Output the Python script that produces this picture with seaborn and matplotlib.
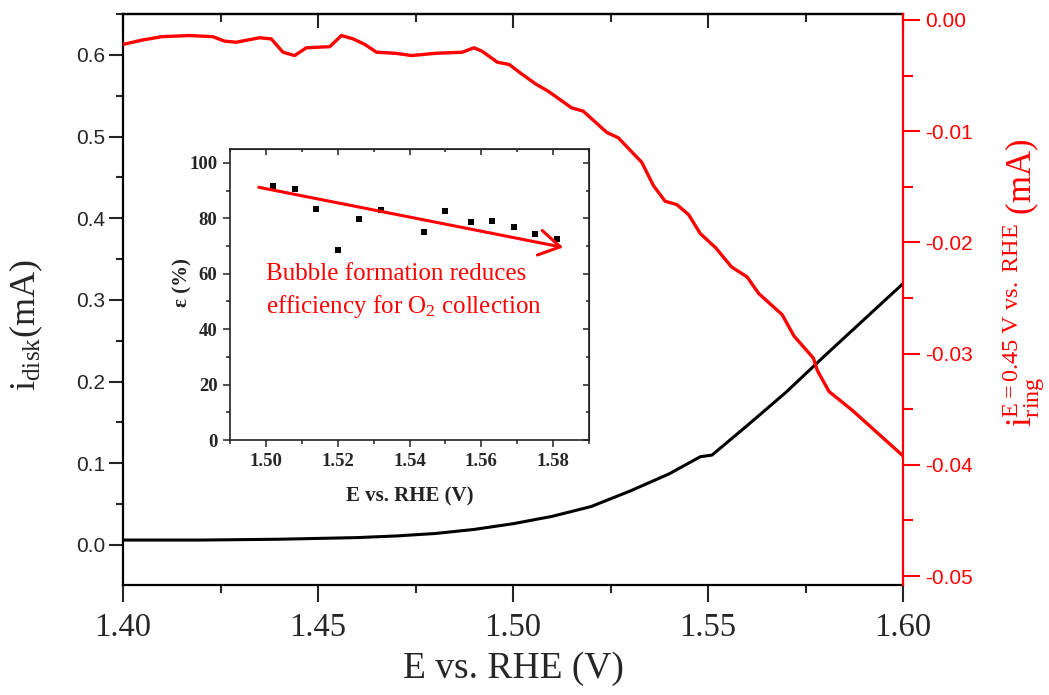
import matplotlib
matplotlib.use('Agg')
import matplotlib.pyplot as plt
from matplotlib.ticker import MultipleLocator, FuncFormatter
import seaborn as sns

# Disk current (black curve)
e_disk = [1.400, 1.420, 1.440, 1.460, 1.470, 1.480, 1.490, 1.500, 1.510, 1.520,
          1.530, 1.540, 1.548, 1.551, 1.560, 1.570, 1.580, 1.590, 1.600]
i_disk = [0.006, 0.006, 0.007, 0.009, 0.011, 0.014, 0.019, 0.026, 0.035, 0.047,
          0.066, 0.087, 0.108, 0.110, 0.146, 0.187, 0.232, 0.276, 0.320]

# Ring current at E=0.45 V (red curve)
e_ring = [1.400, 1.405, 1.410, 1.417, 1.423, 1.426, 1.429, 1.435, 1.438, 1.441,
          1.444, 1.447, 1.453, 1.456, 1.459, 1.462, 1.465, 1.470, 1.474, 1.480,
          1.487, 1.490, 1.492, 1.496, 1.499, 1.502, 1.506, 1.509, 1.515, 1.518,
          1.524, 1.527, 1.533, 1.536, 1.539, 1.542, 1.545, 1.548, 1.552, 1.556,
          1.560, 1.563, 1.569, 1.572, 1.577, 1.578, 1.581, 1.587, 1.600]
i_ring = [-0.0022, -0.0018, -0.0015, -0.0014, -0.0015, -0.0019, -0.0020, -0.0016, -0.0017, -0.0029,
          -0.0032, -0.0025, -0.0024, -0.0014, -0.0017, -0.0022, -0.0029, -0.0030, -0.0032, -0.0030,
          -0.0029, -0.0025, -0.0028, -0.0038, -0.0040, -0.0048, -0.0058, -0.0064, -0.0079, -0.0082,
          -0.0101, -0.0106, -0.0128, -0.0149, -0.0163, -0.0166, -0.0175, -0.0192, -0.0205, -0.0222,
          -0.0231, -0.0246, -0.0265, -0.0284, -0.0304, -0.0315, -0.0334, -0.0351, -0.0392]

# Inset: collection efficiency
e_eff = [1.502, 1.508, 1.514, 1.520, 1.526, 1.532, 1.544, 1.550, 1.557, 1.563, 1.569, 1.575, 1.581]
eff = [91.8, 90.4, 83.5, 68.5, 79.6, 82.9, 75.1, 82.7, 78.5, 79.0, 76.7, 74.2, 72.4]

# trend arrow in the inset (start, end)
arrow_start = (1.498, 91.2)
arrow_end = (1.5828, 69.5)

sns.set_style('ticks')
plt.rcParams['font.family'] = ['Liberation Serif', 'DejaVu Serif']
plt.rcParams['mathtext.fontset'] = 'custom'
plt.rcParams['mathtext.rm'] = 'Liberation Serif'
plt.rcParams['mathtext.it'] = 'Liberation Serif:italic'
plt.rcParams['mathtext.bf'] = 'Liberation Serif:bold'
plt.rcParams['axes.unicode_minus'] = False

RED = '#ff0000'

fig = plt.figure(figsize=(10.49, 6.95), dpi=100)
ax = fig.add_axes([0.1173, 0.1583, 0.7436, 0.8216])
ax2 = ax.twinx()

sns.lineplot(x=e_disk, y=i_disk, ax=ax, color='black', lw=2.2)
sns.lineplot(x=e_ring, y=i_ring, ax=ax2, color=RED, lw=2.4)

ax.set_xlim(1.40, 1.60)
ax.set_ylim(-0.049, 0.65)
ax2.set_ylim(-0.0508, 0.00054)

for s in ax.spines.values():
    s.set_linewidth(1.6)
    s.set_color('black')
ax.spines['right'].set_visible(False)
for s in ['left', 'top', 'bottom']:
    ax2.spines[s].set_visible(False)
ax2.spines['right'].set_color(RED)
ax2.spines['right'].set_linewidth(1.6)

# bottom x axis
ax.xaxis.set_major_locator(MultipleLocator(0.05))
ax.xaxis.set_minor_locator(MultipleLocator(0.025))
ax.xaxis.set_major_formatter(FuncFormatter(lambda v, p: f'{v:.2f}'))
ax.tick_params(axis='x', which='major', direction='out', length=12, width=1.5,
               labelsize=23.5, pad=8, labelfontfamily='Liberation Serif')
ax.tick_params(axis='x', which='minor', direction='out', length=6, width=1.5)

# top ticks, inward
top = ax.secondary_xaxis('top')
top.xaxis.set_major_locator(MultipleLocator(0.05))
top.xaxis.set_minor_locator(MultipleLocator(0.025))
top.tick_params(axis='x', which='major', direction='in', length=10, width=1.5, labeltop=False)
top.tick_params(axis='x', which='minor', direction='in', length=6, width=1.5)
top.spines['top'].set_linewidth(1.6)

# left y axis
ax.yaxis.set_major_locator(MultipleLocator(0.1))
ax.yaxis.set_minor_locator(MultipleLocator(0.05))
ax.yaxis.set_major_formatter(FuncFormatter(lambda v, p: f'{round(v, 3) + 0.0:.1f}'))
ax.tick_params(axis='y', which='major', direction='out', length=10, width=1.5,
               labelsize=15, pad=3, labelfontfamily='Liberation Sans')
ax.tick_params(axis='y', which='minor', direction='out', length=5, width=1.5)

# right y axis (red)
ax2.yaxis.set_major_locator(MultipleLocator(0.01))
ax2.yaxis.set_minor_locator(MultipleLocator(0.005))
ax2.yaxis.set_major_formatter(FuncFormatter(lambda v, p: f'{round(v, 4) + 0.0:.2f}'))
ax2.tick_params(axis='y', which='major', direction='out', length=12, width=1.5, color=RED,
                labelcolor=RED, labelsize=15, pad=4, labelfontfamily='Liberation Sans')
ax2.tick_params(axis='y', which='minor', direction='out', length=7, width=1.5, color=RED)

ax.set_xlabel('E vs. RHE (V)', fontsize=27, labelpad=6)
ax.set_ylabel(r'i$_\mathregular{disk}$(mA)', fontsize=26)
ax.yaxis.set_label_coords(-0.10, 0.455)
ax2.set_ylabel(r'i$_\mathregular{ring}^\mathregular{E=0.45\ V\ vs.\ RHE}$ (mA)', fontsize=25, color=RED)
ax2.yaxis.set_label_coords(1.125, 0.53)

# inset
axin = fig.add_axes([0.2193, 0.3669, 0.3422, 0.4187])
axin.set_facecolor('white')
sns.scatterplot(x=e_eff, y=eff, ax=axin, marker='s', color='black', s=18, linewidth=0)
axin.set_xlim(1.49, 1.59)
axin.set_ylim(0, 105)
INK = '#222222'
for s in axin.spines.values():
    s.set_linewidth(1.2)
    s.set_color(INK)
axin.xaxis.set_major_locator(MultipleLocator(0.02))
axin.xaxis.set_minor_locator(MultipleLocator(0.01))
axin.xaxis.set_major_formatter(FuncFormatter(lambda v, p: f'{v:.2f}'))
axin.yaxis.set_major_locator(MultipleLocator(20))
axin.yaxis.set_minor_locator(MultipleLocator(10))
axin.tick_params(which='major', direction='out', length=5, width=1.1, color=INK,
                 labelsize=13.5, pad=4)
axin.tick_params(which='minor', direction='out', length=3, width=1.1, color=INK)
for lab in axin.get_xticklabels() + axin.get_yticklabels():
    lab.set_fontweight('bold')
intop = axin.secondary_xaxis('top')
intop.xaxis.set_major_locator(MultipleLocator(0.02))
intop.xaxis.set_minor_locator(MultipleLocator(0.01))
intop.tick_params(which='major', direction='in', length=4, width=1.1, color=INK, labeltop=False)
intop.tick_params(which='minor', direction='in', length=2.5, width=1.1, color=INK)
inright = axin.secondary_yaxis('right')
inright.yaxis.set_major_locator(MultipleLocator(20))
inright.yaxis.set_minor_locator(MultipleLocator(10))
inright.tick_params(which='major', direction='in', length=4, width=1.1, color=INK, labelright=False)
inright.tick_params(which='minor', direction='in', length=2.5, width=1.1, color=INK)

axin.set_xlabel('E vs. RHE (V)', fontsize=15, fontweight='bold', color=INK, labelpad=12)
axin.set_ylabel('ε (%)', fontsize=15, fontweight='bold', color=INK)
axin.yaxis.set_label_coords(-0.105, 0.54)

axin.annotate('', xy=arrow_end, xytext=arrow_start,
              arrowprops=dict(arrowstyle='->,head_length=0.75,head_width=0.45', color=RED,
                              lw=2.2, mutation_scale=20, shrinkA=0, shrinkB=0))
axin.text(1.500, 64.0, 'Bubble formation reduces\nefficiency for O$_\\mathregular{2}$ collection',
          color=RED, fontsize=18, ha='left', va='top', linespacing=1.4)

fig.savefig('out.png', dpi=100)
